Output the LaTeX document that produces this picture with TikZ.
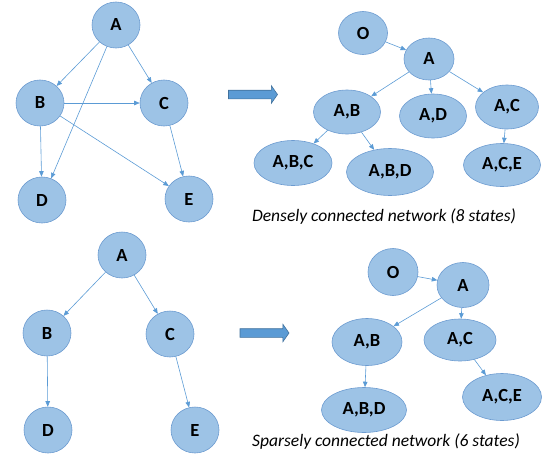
\documentclass[tikz,border=0pt]{standalone}
\usepackage{fontspec}
\setmainfont{Carlito}
\usepackage{tikz}
\usetikzlibrary{positioning,shapes.geometric,shapes.arrows,arrows.meta}
\definecolor{nodefill} {HTML}{9DC3E6}
\definecolor{nodeline} {HTML}{6C9BD0}
\definecolor{edgeblue} {HTML}{5B9BD5}
\definecolor{arrline}  {HTML}{41719C}
\tikzset{
  % --- nodes
  st/.style    = {ellipse, draw=nodeline, fill=nodefill, line width=0.6pt,
                  inner sep=0pt, minimum width=48pt, minimum height=46pt,
                  font=\fontsize{18.5}{20}\selectfont\bfseries},
  st2/.style   = {st, minimum width=67pt, minimum height=44pt},
  st3/.style   = {st, minimum width=80pt, minimum height=45pt},
  note/.style  = {font=\fontsize{17.5}{19}\selectfont\itshape, inner sep=0pt},
  bigarr/.style= {single arrow, draw=arrline, fill=edgeblue, line width=0.6pt,
                  inner sep=4pt, minimum height=49pt, single arrow head extend=4.5pt,
                  single arrow tip angle=110},
  % --- edges
  e/.style     = {-{Triangle[length=5.5pt,width=4.5pt]}, draw=edgeblue, line width=0.6pt},
}
\begin{document}
\begin{tikzpicture}[x=1pt,y=-1pt]
  \useasboundingbox (0,0) rectangle (548,455);
  % --- dense network
  \node[st] (a1) at (116,25)  {A};
  \node[st] (b1) at (40,103)  {B};
  \node[st] (c1) at (164,103) {C};
  \node[st] (d1) at (42,200)  {D};
  \node[st] (e1) at (189,199) {E};
  \draw[e] (a1)--(b1); \draw[e] (a1)--(c1); \draw[e] (a1)--(d1);
  \draw[e] (b1)--(c1); \draw[e] (b1)--(d1); \draw[e] (b1)--(e1);
  \draw[e] (c1)--(e1);

  \node[bigarr] (arr1) at (251.5,94.5) {};

  % --- dense states
  \node[st, minimum width=49pt, minimum height=43pt] (o1) at (363,33) {O};
  \node[st, minimum width=50pt, minimum height=42pt] (sa1) at (429,59) {A};
  \node[st2] (sab1) at (347,112) {A,B};
  \node[st2] (sad1) at (433,116) {A,D};
  \node[st2, minimum width=63pt] (sac1) at (507,107) {A,C};
  \node[st3, minimum width=78pt] (sabc1) at (293,163) {A,B,C};
  \node[st3, minimum width=87pt, minimum height=47pt] (sabd1) at (390,172) {A,B,D};
  \node[st3, minimum width=77pt, minimum height=43pt] (sace1) at (502,165) {A,C,E};
  \draw[e] (o1)--(sa1);
  \draw[e] (sa1)--(sab1); \draw[e] (sa1)--(sad1); \draw[e] (sa1)--(sac1);
  \draw[e] (sab1)--(sabc1); \draw[e] (sab1)--(sabd1);
  \draw[e] (sac1)--(sace1);
  \node[note] (t1) at (384,217) {Densely connected network (8 states)};

  % --- sparse network
  \node[st] (a2) at (122,255) {A};
  \node[st] (b2) at (47,333)  {B};
  \node[st] (c2) at (170,334) {C};
  \node[st] (d2) at (48,430)  {D};
  \node[st] (e2) at (195,430) {E};
  \draw[e] (a2)--(b2); \draw[e] (a2)--(c2);
  \draw[e] (b2)--(d2); \draw[e] (c2)--(e2);

  \node[bigarr] (arr2) at (263,333) {};

  % --- sparse states
  \node[st, minimum width=50pt, minimum height=47pt] (o2) at (393,272) {O};
  \node[st, minimum width=52pt, minimum height=45pt] (sa2) at (463,285) {A};
  \node[st2, minimum width=70pt, minimum height=47pt] (sab2) at (367,342) {A,B};
  \node[st2, minimum width=72pt, minimum height=42pt] (sac2) at (460,340) {A,C};
  \node[st3, minimum width=85pt] (sabd2) at (364,410) {A,B,D};
  \node[st3, minimum width=79pt, minimum height=47pt] (sace2) at (502,397) {A,C,E};
  \draw[e] (o2)--(sa2);
  \draw[e] (sa2)--(sab2); \draw[e] (sa2)--(sac2);
  \draw[e] (sab2)--(sabd2); \draw[e] (sac2)--(sace2);
  \node[note] (t2) at (386,442) {Sparsely connected network (6 states)};
\end{tikzpicture}
\end{document}
